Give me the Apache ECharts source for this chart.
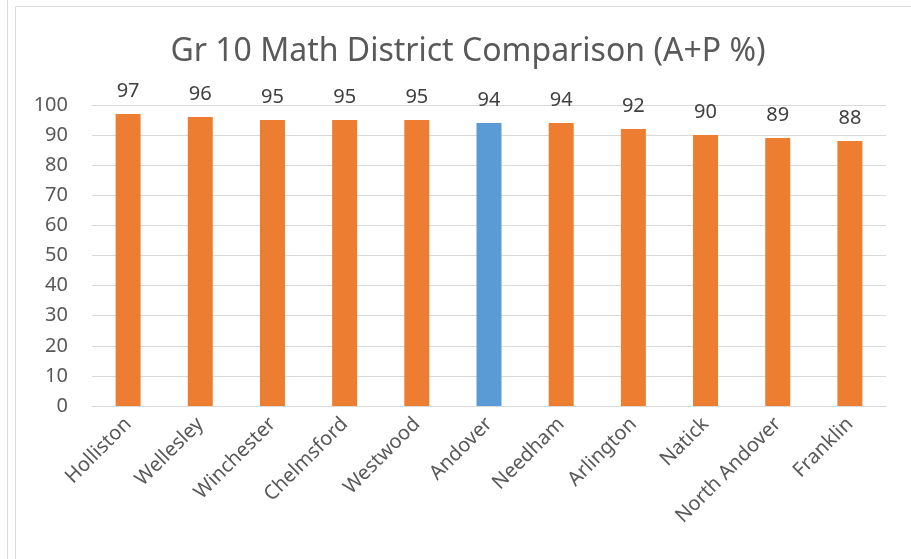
<!DOCTYPE html>
<html>
<head>
<meta charset="utf-8">
<script src="https://cdn.jsdelivr.net/npm/echarts@6/dist/echarts.min.js"></script>
<style>
html, body { margin: 0; padding: 0; background: #fff; }
#chart { width: 911px; height: 559px; }
</style>
</head>
<body>
<div id="chart"></div>
<script>
var districts = ['Holliston', 'Wellesley', 'Winchester', 'Chelmsford', 'Westwood', 'Andover',
	'Needham', 'Arlington', 'Natick', 'North Andover', 'Franklin'];
var scores = [97, 96, 95, 95, 95, 94, 94, 92, 90, 89, 88];
var highlight = 'Andover';

var chart = echarts.init(document.getElementById('chart'));

var font = 'Noto Sans';

var option = {
	animation: false,
	title: {
		text: 'Gr 10 Math District Comparison (A+P %)',
		left: 463,
		textAlign: 'center',
		top: 31,
		textStyle: {
			fontFamily: font,
			fontSize: 32,
			fontWeight: 'normal',
			color: '#595959'
		}
	},
	graphic: [
		{ type: 'line', shape: { x1: 7.5, y1: 0, x2: 7.5, y2: 559 }, style: { stroke: '#d9d9d9', lineWidth: 1 } },
		{ type: 'line', shape: { x1: 15.5, y1: 6.5, x2: 15.5, y2: 559 }, style: { stroke: '#d9d9d9', lineWidth: 1 } },
		{ type: 'line', shape: { x1: 15.5, y1: 6.5, x2: 911, y2: 6.5 }, style: { stroke: '#d9d9d9', lineWidth: 1 } }
	],
	grid: {
		left: 92,
		right: 25,
		top: 105,
		bottom: 153
	},
	xAxis: {
		type: 'category',
		data: districts,
		axisTick: { show: false },
		axisLine: { lineStyle: { color: '#d9d9d9', width: 1 } },
		axisLabel: {
			rotate: 45,
			margin: 15,
			fontFamily: font,
			fontSize: 20,
			color: '#595959'
		}
	},
	yAxis: {
		type: 'value',
		min: 0,
		max: 100,
		interval: 10,
		axisLine: { show: false },
		axisTick: { show: false },
		splitLine: { lineStyle: { color: '#d9d9d9', width: 1 } },
		axisLabel: {
			margin: 24,
			fontFamily: font,
			fontSize: 20,
			color: '#595959'
		}
	},
	series: [{
		type: 'bar',
		barWidth: 25,
		data: scores.map(function (v, i) {
			return {
				value: v,
				itemStyle: { color: districts[i] === highlight ? '#5b9bd5' : '#ed7d31' }
			};
		}),
		label: {
			show: true,
			position: 'top',
			distance: 13,
			fontFamily: font,
			fontSize: 20,
			color: '#404040'
		}
	}]
};

chart.setOption(option);
</script>
</body>
</html>
